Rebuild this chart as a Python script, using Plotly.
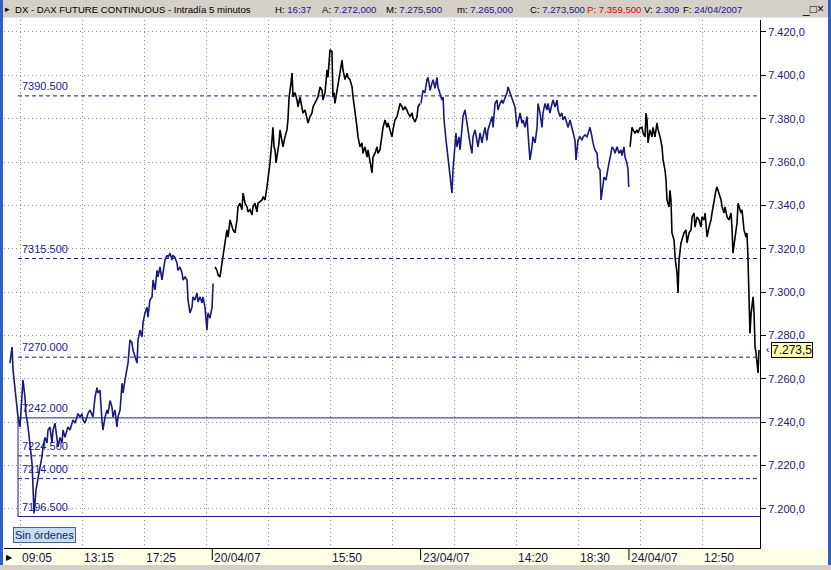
import plotly.graph_objects as go

# ---------------- data (bar index = 5-minute bars since 19/04 08:00) ----------------
D1_BAR = [4.8, 6.5, 7.3, 8.9, 10.5, 11.3, 12.9, 14.5, 15.3, 16.9, 17.7, 19.4, 21.0, 22.6, 23.4, 24.2, 25.8, 27.4, 28.2,
          30.6, 31.5, 33.1, 34.7, 35.5, 37.1, 38.7, 39.5, 41.1, 42.7, 43.6, 45.2, 46.8, 47.6, 49.2, 50.8, 51.6, 53.2,
          54.8, 55.6, 57.3, 58.9, 59.7, 61.3, 62.9, 63.7, 65.3, 66.9, 67.7, 69.4, 71.0, 71.8, 73.4, 75.0, 75.8, 77.4,
          79.0, 79.8, 81.5, 83.1, 83.9, 85.5, 87.1, 87.9, 89.5, 91.1, 91.9, 93.6, 95.2, 96.0, 97.6, 99.2, 100.0, 101.6,
          103.2, 104.0, 105.7, 107.3, 108.1, 109.7, 111.3, 112.1, 113.7, 115.3, 116.1, 117.7, 119.4, 120.2, 121.8,
          123.4, 124.2, 125.8, 127.4, 128.2, 129.8, 131.5, 132.3, 133.9, 135.5, 136.3, 137.9, 139.5, 140.3, 141.9,
          143.6, 144.4, 146.0, 147.6, 148.4, 150.0, 151.6, 152.4, 154.0, 155.7, 156.5, 158.1, 159.7, 160.5, 162.1,
          163.7, 164.5, 166.1, 167.8, 168.6]
D1_PX = [7267.3, 7274.7, 7264.0, 7254.8, 7249.0, 7242.4, 7237.8, 7254.8, 7259.5, 7251.6, 7244.0, 7237.8, 7228.6, 7221.0,
         7210.0, 7198.0, 7208.7, 7214.7, 7216.6, 7224.0, 7228.6, 7233.0, 7230.4, 7236.4, 7237.8, 7230.4, 7236.4, 7239.6,
         7233.0, 7228.6, 7233.0, 7230.4, 7236.4, 7233.0, 7236.4, 7237.8, 7236.4, 7239.6, 7241.0, 7239.6, 7242.4, 7244.0,
         7242.4, 7244.0, 7241.0, 7239.6, 7242.4, 7244.0, 7245.6, 7243.0, 7242.4, 7251.6, 7256.0, 7253.5, 7254.8, 7241.0,
         7236.4, 7242.4, 7245.6, 7244.0, 7250.0, 7247.0, 7242.4, 7245.6, 7237.8, 7242.4, 7245.6, 7258.0, 7253.5, 7259.5,
         7265.5, 7267.3, 7278.0, 7276.6, 7273.3, 7270.0, 7267.3, 7278.0, 7282.5, 7279.3, 7285.8, 7290.4, 7293.0, 7288.5,
         7296.4, 7297.8, 7305.6, 7301.0, 7310.0, 7307.0, 7311.6, 7305.6, 7308.8, 7314.8, 7317.0, 7316.0, 7318.0, 7314.8,
         7317.0, 7316.0, 7313.4, 7310.0, 7311.6, 7308.8, 7305.6, 7307.0, 7305.6, 7296.4, 7290.4, 7293.0, 7297.8, 7296.4,
         7299.6, 7295.5, 7297.8, 7295.0, 7297.8, 7293.0, 7282.5, 7290.4, 7288.0, 7293.0, 7304.0]

D2_BAR = [170.2, 171.8, 172.6, 174.2, 175.8, 176.6, 178.2, 179.8, 180.7, 182.3, 183.9, 184.7, 186.3, 187.9, 188.7, 190.3,
          191.9, 192.8, 194.4, 196.0, 196.8, 198.4, 200.0, 200.8, 202.4, 204.0, 204.9, 206.5, 208.1, 208.9, 210.5,
          212.1, 212.9, 214.5, 216.1, 216.9, 217.8, 218.6, 219.4, 221.0, 221.8, 222.6, 224.2, 225.0, 226.6, 228.2,
          229.0, 229.9, 231.5, 232.3, 233.1, 234.7, 236.3, 237.1, 238.7, 240.3, 241.1, 242.8, 244.4, 245.2, 246.8,
          248.4, 249.2, 250.8, 252.4, 253.2, 254.9, 256.5, 257.3, 258.9, 260.5, 261.3, 262.9, 264.5, 265.3, 266.1,
          266.9, 268.6, 269.4, 271.0, 272.6, 273.4, 275.0, 276.6, 277.4, 279.0, 280.7, 281.5, 283.1, 284.7, 285.5,
          287.1, 288.7, 289.5, 291.1, 292.8, 293.6, 295.2, 296.8, 297.6, 299.2, 300.8, 301.6, 303.2, 304.9, 305.7,
          307.3, 308.9, 309.7, 311.3, 312.9, 313.7, 315.3, 317.0, 317.8, 319.4, 321.0, 321.8, 323.4, 325.0, 325.8,
          327.4, 329.1, 329.9, 331.5, 333.1, 333.9, 335.5]
D2_PX = [7311.6, 7310.0, 7308.0, 7307.0, 7313.4, 7316.0, 7322.7, 7328.7, 7325.4, 7333.3, 7330.0, 7328.7, 7327.3, 7333.3,
         7339.3, 7341.0, 7338.0, 7345.7, 7341.0, 7339.3, 7337.0, 7338.0, 7335.6, 7339.3, 7341.0, 7337.0, 7341.0, 7341.6,
         7342.5, 7344.0, 7342.5, 7348.5, 7351.7, 7359.6, 7370.0, 7376.0, 7367.0, 7365.6, 7359.6, 7365.6, 7368.8, 7374.8,
         7370.0, 7367.0, 7371.6, 7374.8, 7379.4, 7390.0, 7396.5, 7401.0, 7390.0, 7392.0, 7388.6, 7385.4, 7390.0, 7384.0,
         7382.6, 7384.0, 7379.4, 7378.0, 7381.0, 7382.6, 7385.4, 7387.0, 7388.6, 7390.0, 7394.6, 7393.0, 7388.6, 7392.0,
         7402.5, 7399.0, 7411.7, 7411.0, 7390.0, 7392.0, 7387.0, 7393.0, 7396.5, 7401.0, 7407.0, 7402.5, 7398.0, 7401.0,
         7399.0, 7398.0, 7394.6, 7390.0, 7384.0, 7376.0, 7371.6, 7367.0, 7368.8, 7364.0, 7367.0, 7362.3, 7365.6, 7359.6,
         7355.0, 7362.3, 7364.0, 7367.0, 7364.0, 7365.6, 7371.6, 7376.0, 7379.4, 7376.0, 7378.0, 7374.8, 7371.6, 7374.8,
         7379.4, 7381.0, 7382.6, 7387.0, 7385.4, 7384.0, 7385.4, 7384.0, 7382.6, 7381.0, 7382.6, 7380.3, 7378.5, 7381.0,
         7385.4, 7387.0]

D3_BAR = [336.3, 337.9, 339.5, 341.1, 342.0, 343.6, 345.2, 346.0, 347.6, 349.2, 350.0, 351.6, 353.2, 354.1, 354.9, 356.5,
          357.3, 358.1, 358.9, 359.7, 360.5, 361.3, 362.1, 362.9, 363.7, 364.5, 365.3, 367.0, 367.8, 369.4, 370.2,
          371.8, 373.4, 374.2, 375.8, 377.4, 378.2, 379.9, 381.5, 382.3, 383.9, 385.5, 386.3, 387.9, 389.5, 390.3,
          392.0, 393.6, 394.4, 396.0, 397.6, 398.4, 400.0, 401.6, 402.4, 404.1, 405.7, 406.5, 408.1, 409.7, 410.5,
          412.1, 413.7, 414.5, 416.2, 417.8, 418.6, 420.2, 421.8, 422.6, 424.2, 425.8, 426.6, 428.3, 429.9, 430.7,
          432.3, 433.9, 434.7, 436.3, 437.9, 438.7, 440.3, 442.0, 442.8, 444.4, 446.0, 446.8, 448.4, 450.0, 450.8,
          452.4, 454.1, 454.9, 456.5, 458.1, 458.9, 460.5, 461.3, 462.9, 464.5, 466.2, 467.0, 468.6, 470.2, 471.0,
          472.6, 474.2, 475.0, 476.6, 478.3, 479.1, 480.7, 481.5, 483.1, 483.9, 485.5, 486.3, 487.9, 489.5, 490.4,
          492.0, 492.8, 494.4, 496.0, 497.6, 498.4, 500.0, 500.8, 502.4, 503.3, 503.8]
D3_PX = [7387.0, 7393.0, 7392.0, 7398.0, 7399.0, 7393.0, 7396.5, 7398.0, 7394.0, 7399.0, 7394.6, 7392.0, 7388.6, 7390.0,
         7379.4, 7370.0, 7365.6, 7361.0, 7357.7, 7355.0, 7348.5, 7345.7, 7356.3, 7362.3, 7370.0, 7373.4, 7367.0, 7371.6,
         7365.6, 7376.0, 7381.0, 7384.0, 7378.0, 7373.4, 7368.8, 7364.0, 7371.6, 7374.8, 7370.0, 7367.0, 7373.4, 7368.8,
         7371.6, 7376.0, 7370.0, 7374.8, 7378.0, 7381.0, 7376.0, 7387.0, 7388.6, 7384.0, 7387.0, 7388.6, 7387.0, 7390.0,
         7392.0, 7394.6, 7392.0, 7390.0, 7388.6, 7385.4, 7376.0, 7378.0, 7382.6, 7378.0, 7379.4, 7376.0, 7381.0, 7373.4,
         7361.0, 7367.0, 7371.6, 7368.8, 7376.0, 7387.0, 7382.6, 7376.0, 7382.6, 7387.0, 7384.0, 7387.0, 7382.6, 7387.0,
         7388.6, 7385.4, 7388.6, 7384.0, 7381.0, 7382.6, 7379.4, 7381.0, 7378.0, 7376.0, 7379.4, 7376.0, 7373.4, 7370.0,
         7361.0, 7370.0, 7371.6, 7370.0, 7371.6, 7372.5, 7371.6, 7373.4, 7376.0, 7371.6, 7368.8, 7365.6, 7364.0, 7357.7,
         7356.3, 7342.5, 7351.7, 7353.0, 7351.7, 7355.0, 7359.6, 7364.0, 7367.0, 7365.6, 7364.0, 7367.0, 7364.0, 7365.6,
         7363.0, 7367.0, 7362.3, 7359.6, 7356.3, 7348.5]

D4_BAR = [504.9, 505.7, 506.5, 507.3, 508.9, 510.5, 511.3, 512.9, 514.5, 515.4, 517.0, 517.8, 518.6, 519.4, 521.0, 522.6,
          523.4, 525.0, 526.6, 527.5, 529.1, 530.7, 531.5, 533.1, 533.9, 534.7, 536.3, 537.1, 537.9, 538.7, 540.4,
          541.2, 542.8, 543.6, 544.4, 546.0, 546.8, 548.4, 550.0, 550.8, 552.5, 554.1, 554.9, 556.5, 557.3, 558.9,
          560.5, 562.1, 562.9, 564.6, 565.4, 567.0, 568.6, 570.2, 571.0, 572.6, 574.2, 575.0, 576.6, 578.3, 579.1,
          580.7, 581.5, 583.1, 584.7, 586.3, 587.1, 587.9, 589.6, 591.2, 592.0, 592.8, 594.4, 595.2, 596.8, 598.4,
          599.2, 600.0, 600.8, 601.6, 602.5, 603.3, 604.1, 604.9, 605.7, 606.5, 607.3, 608.1, 608.9]
D4_PX = [7367.0, 7373.4, 7376.0, 7374.8, 7373.4, 7374.8, 7373.4, 7375.7, 7376.0, 7373.4, 7371.6, 7382.6, 7379.4, 7368.8,
         7374.8, 7371.6, 7376.0, 7371.6, 7378.0, 7374.8, 7371.6, 7367.0, 7361.0, 7356.3, 7351.7, 7342.5, 7339.3, 7347.0,
         7342.5, 7327.3, 7324.0, 7316.0, 7308.8, 7299.6, 7314.8, 7322.7, 7324.0, 7327.3, 7328.7, 7322.7, 7327.3, 7328.7,
         7334.7, 7336.5, 7330.0, 7334.7, 7333.3, 7330.0, 7334.7, 7333.3, 7336.5, 7325.4, 7330.0, 7333.3, 7336.5, 7342.5,
         7347.0, 7348.5, 7345.7, 7342.5, 7339.3, 7336.5, 7339.3, 7334.7, 7333.3, 7336.5, 7330.0, 7318.0, 7325.4, 7332.0,
         7341.0, 7339.3, 7336.5, 7338.0, 7328.7, 7325.4, 7327.3, 7316.0, 7299.6, 7281.0, 7290.0, 7293.0, 7297.8, 7290.4,
         7274.7, 7272.0, 7265.5, 7262.7, 7273.3]

DAYS = [(D1_BAR, D1_PX), (D2_BAR, D2_PX), (D3_BAR, D3_PX), (D4_BAR, D4_PX)]
DAY_COLORS = ["#1a1a7e", "#000000", "#1a1a7e", "#000000"]

LEVELS = [7390.5, 7315.5, 7270.0, 7242.0, 7224.5, 7214.0, 7196.5]
LEVEL_SOLID = [False, False, False, True, False, False, True]

Y_TICKS = [7200, 7220, 7240, 7260, 7280, 7300, 7320, 7340, 7360, 7380, 7400, 7420]
GRID_BARS = [13, 63, 113, 163, 213, 263, 313, 363, 413, 463, 513, 563]
LABEL_BARS = [13, 63, 113, 168, 263, 336, 413, 463, 504, 563]
LABEL_TEXT = ["09:05", "13:15", "17:25", "20/04/07", "15:50", "23/04/07", "14:20", "18:30", "24/04/07", "12:50"]
DATE_BARS = [168, 336, 504]

LAST_PRICE = 7273.5

HEADER = [("DX - DAX FUTURE CONTINUOUS - Intradía 5 minutos", "", 13),
          ("H: ", "16:37", 273), ("A: ", "7.272,000", 320), ("M: ", "7.275,500", 384),
          ("m: ", "7.265,000", 455), ("C: ", "7.273,500", 528), ("P: ", "7.359,500", 585),
          ("V: ", "2.309", 642), ("F: ", "24/04/2007", 681)]


def es_num(v, dec):
    s = f"{v:,.{dec}f}"
    return s.replace(",", "X").replace(".", ",").replace("X", ".")


W, H = 831, 570
ML, MR, MT, MB = 4, 71, 20, 22
PW, PH = W - ML - MR, H - MT - MB


def px(xp):
    return (xp - ML) / PW


def py(yp):
    return (H - MB - yp) / PH


FONT = "Liberation Sans, Arial, sans-serif"

fig = go.Figure()
for (bars, prices), col in zip(DAYS, DAY_COLORS):
    fig.add_trace(go.Scatter(x=bars, y=prices, mode="lines", line=dict(color=col, width=1.6),
                             hoverinfo="skip", showlegend=False))

shapes = []
annotations = []

# level lines
for lv, solid in zip(LEVELS, LEVEL_SOLID):
    shapes.append(dict(type="line", xref="paper", yref="y", x0=px(18), x1=1, y0=lv, y1=lv,
                       line=dict(color="#1a1a8c", width=1, dash="solid" if solid else "4px,3px")))
    annotations.append(dict(xref="paper", yref="y", x=px(20), y=lv, xanchor="left", yanchor="bottom",
                            yshift=2, showarrow=False, text=f"{lv:.3f}",
                            font=dict(family=FONT, size=11, color="#1a1a8c")))
shapes.append(dict(type="line", xref="paper", yref="y", x0=px(18), x1=px(18), y0=LEVELS[6], y1=LEVELS[3],
                   line=dict(color="#1a1a8c", width=1)))

# header bar
shapes.append(dict(type="rect", xref="paper", yref="paper", x0=px(0), x1=px(W), y0=py(18), y1=py(0),
                   fillcolor="#d4d0c8", line=dict(width=0), layer="above"))
shapes.append(dict(type="line", xref="paper", yref="paper", x0=px(0), x1=px(W), y0=py(18), y1=py(18),
                   line=dict(color="#ffffff", width=1), layer="above"))
# bottom axis band
shapes.append(dict(type="rect", xref="paper", yref="paper", x0=px(4), x1=px(W), y0=py(565), y1=py(549),
                   fillcolor="#ffffe6", line=dict(width=0), layer="above"))
shapes.append(dict(type="rect", xref="paper", yref="paper", x0=px(0), x1=px(W), y0=py(H), y1=py(565),
                   fillcolor="#d4d0c8", line=dict(width=0), layer="above"))
# window frame edges
shapes.append(dict(type="rect", xref="paper", yref="paper", x0=px(0), x1=px(3), y0=py(565), y1=py(0),
                   fillcolor="#2f5fc4", line=dict(width=0), layer="above"))
shapes.append(dict(type="rect", xref="paper", yref="paper", x0=px(828), x1=px(W), y0=py(565), y1=py(0),
                   fillcolor="#2f5fc4", line=dict(width=0), layer="above"))
# date separator ticks
for b in DATE_BARS:
    shapes.append(dict(type="line", xref="x", yref="paper", x0=b, x1=b, y0=py(560), y1=py(548),
                       line=dict(color="#000000", width=1), layer="above"))

# x tick labels (left aligned to the tick)
for b, t in zip(LABEL_BARS, LABEL_TEXT):
    annotations.append(dict(xref="x", yref="paper", x=b, y=py(558), xanchor="left", yanchor="middle",
                            xshift=0, showarrow=False, text=t,
                            font=dict(family=FONT, size=12, color="#14145a")))
annotations.append(dict(xref="paper", yref="paper", x=px(4), y=py(557), xanchor="left", yanchor="middle",
                        showarrow=False, text="▶", font=dict(family=FONT, size=8, color="#000000")))

# header text
for lab, val, xp in HEADER:
    if lab.startswith("P"):
        txt = f"<span style='color:#e00000'>{lab}{val}</span>"
    elif val:
        txt = f"{lab}<span style='color:#1a1a8c'>{val}</span>"
    else:
        txt = lab
    annotations.append(dict(xref="paper", yref="paper", x=px(xp), y=py(9), xanchor="left", yanchor="middle",
                            showarrow=False, text=txt,
                            font=dict(family=FONT, size=9.6, color="#000000")))
annotations.append(dict(xref="paper", yref="paper", x=px(3), y=py(9), xanchor="left", yanchor="middle",
                        showarrow=False, text="▸", font=dict(family=FONT, size=9, color="#000000")))
annotations.append(dict(xref="paper", yref="paper", x=px(826), y=py(9), xanchor="right", yanchor="middle",
                        showarrow=False, text="_□×", font=dict(family=FONT, size=12, color="#000000")))

# "Sin órdenes" tag
annotations.append(dict(xref="paper", yref="paper", x=px(13), y=py(534.5), xanchor="left", yanchor="middle",
                        showarrow=False, text="Sin órdenes", bgcolor="#c6ddf2", bordercolor="#4a6488",
                        borderwidth=1, borderpad=1, font=dict(family=FONT, size=11, color="#102a5a")))

# last price tag
annotations.append(dict(xref="paper", yref="y", x=px(771), y=LAST_PRICE, xanchor="left", yanchor="middle",
                        showarrow=False, text=es_num(LAST_PRICE, 1), bgcolor="#ffffb8", bordercolor="#000000",
                        borderwidth=1, borderpad=0, font=dict(family=FONT, size=12, color="#000000")))
annotations.append(dict(xref="paper", yref="y", x=px(764), y=LAST_PRICE, xanchor="left", yanchor="middle",
                        showarrow=False, text="‹", font=dict(family=FONT, size=10, color="#000000")))

fig.update_layout(
    width=W, height=H, margin=dict(l=ML, r=MR, t=MT, b=MB, pad=0),
    paper_bgcolor="#ffffff", plot_bgcolor="#ffffff",
    shapes=shapes, annotations=annotations, showlegend=False,
    xaxis=dict(range=[0, 609.7], tickmode="array", tickvals=GRID_BARS, showticklabels=False,
               ticks="outside", ticklen=6, tickcolor="#000000", showgrid=True, gridcolor="#8c8c8c",
               griddash="1px,3px", gridwidth=1, showline=True, linecolor="#000000", linewidth=1,
               zeroline=False, fixedrange=True),
    yaxis=dict(range=[7182, 7425.5], side="right", tickmode="array", tickvals=Y_TICKS,
               ticktext=[es_num(v, 1) for v in Y_TICKS], ticks="outside", ticklen=5, tickcolor="#000000",
               tickfont=dict(family=FONT, size=11, color="#1a1a6e"), showgrid=True, gridcolor="#8c8c8c",
               griddash="1px,3px", gridwidth=1, showline=True, linecolor="#000000", linewidth=1,
               zeroline=False, fixedrange=True),
)

fig.write_html("out.html", config={"displayModeBar": False},
               post_script="document.body.style.margin='0px';document.body.style.overflow='hidden';")
